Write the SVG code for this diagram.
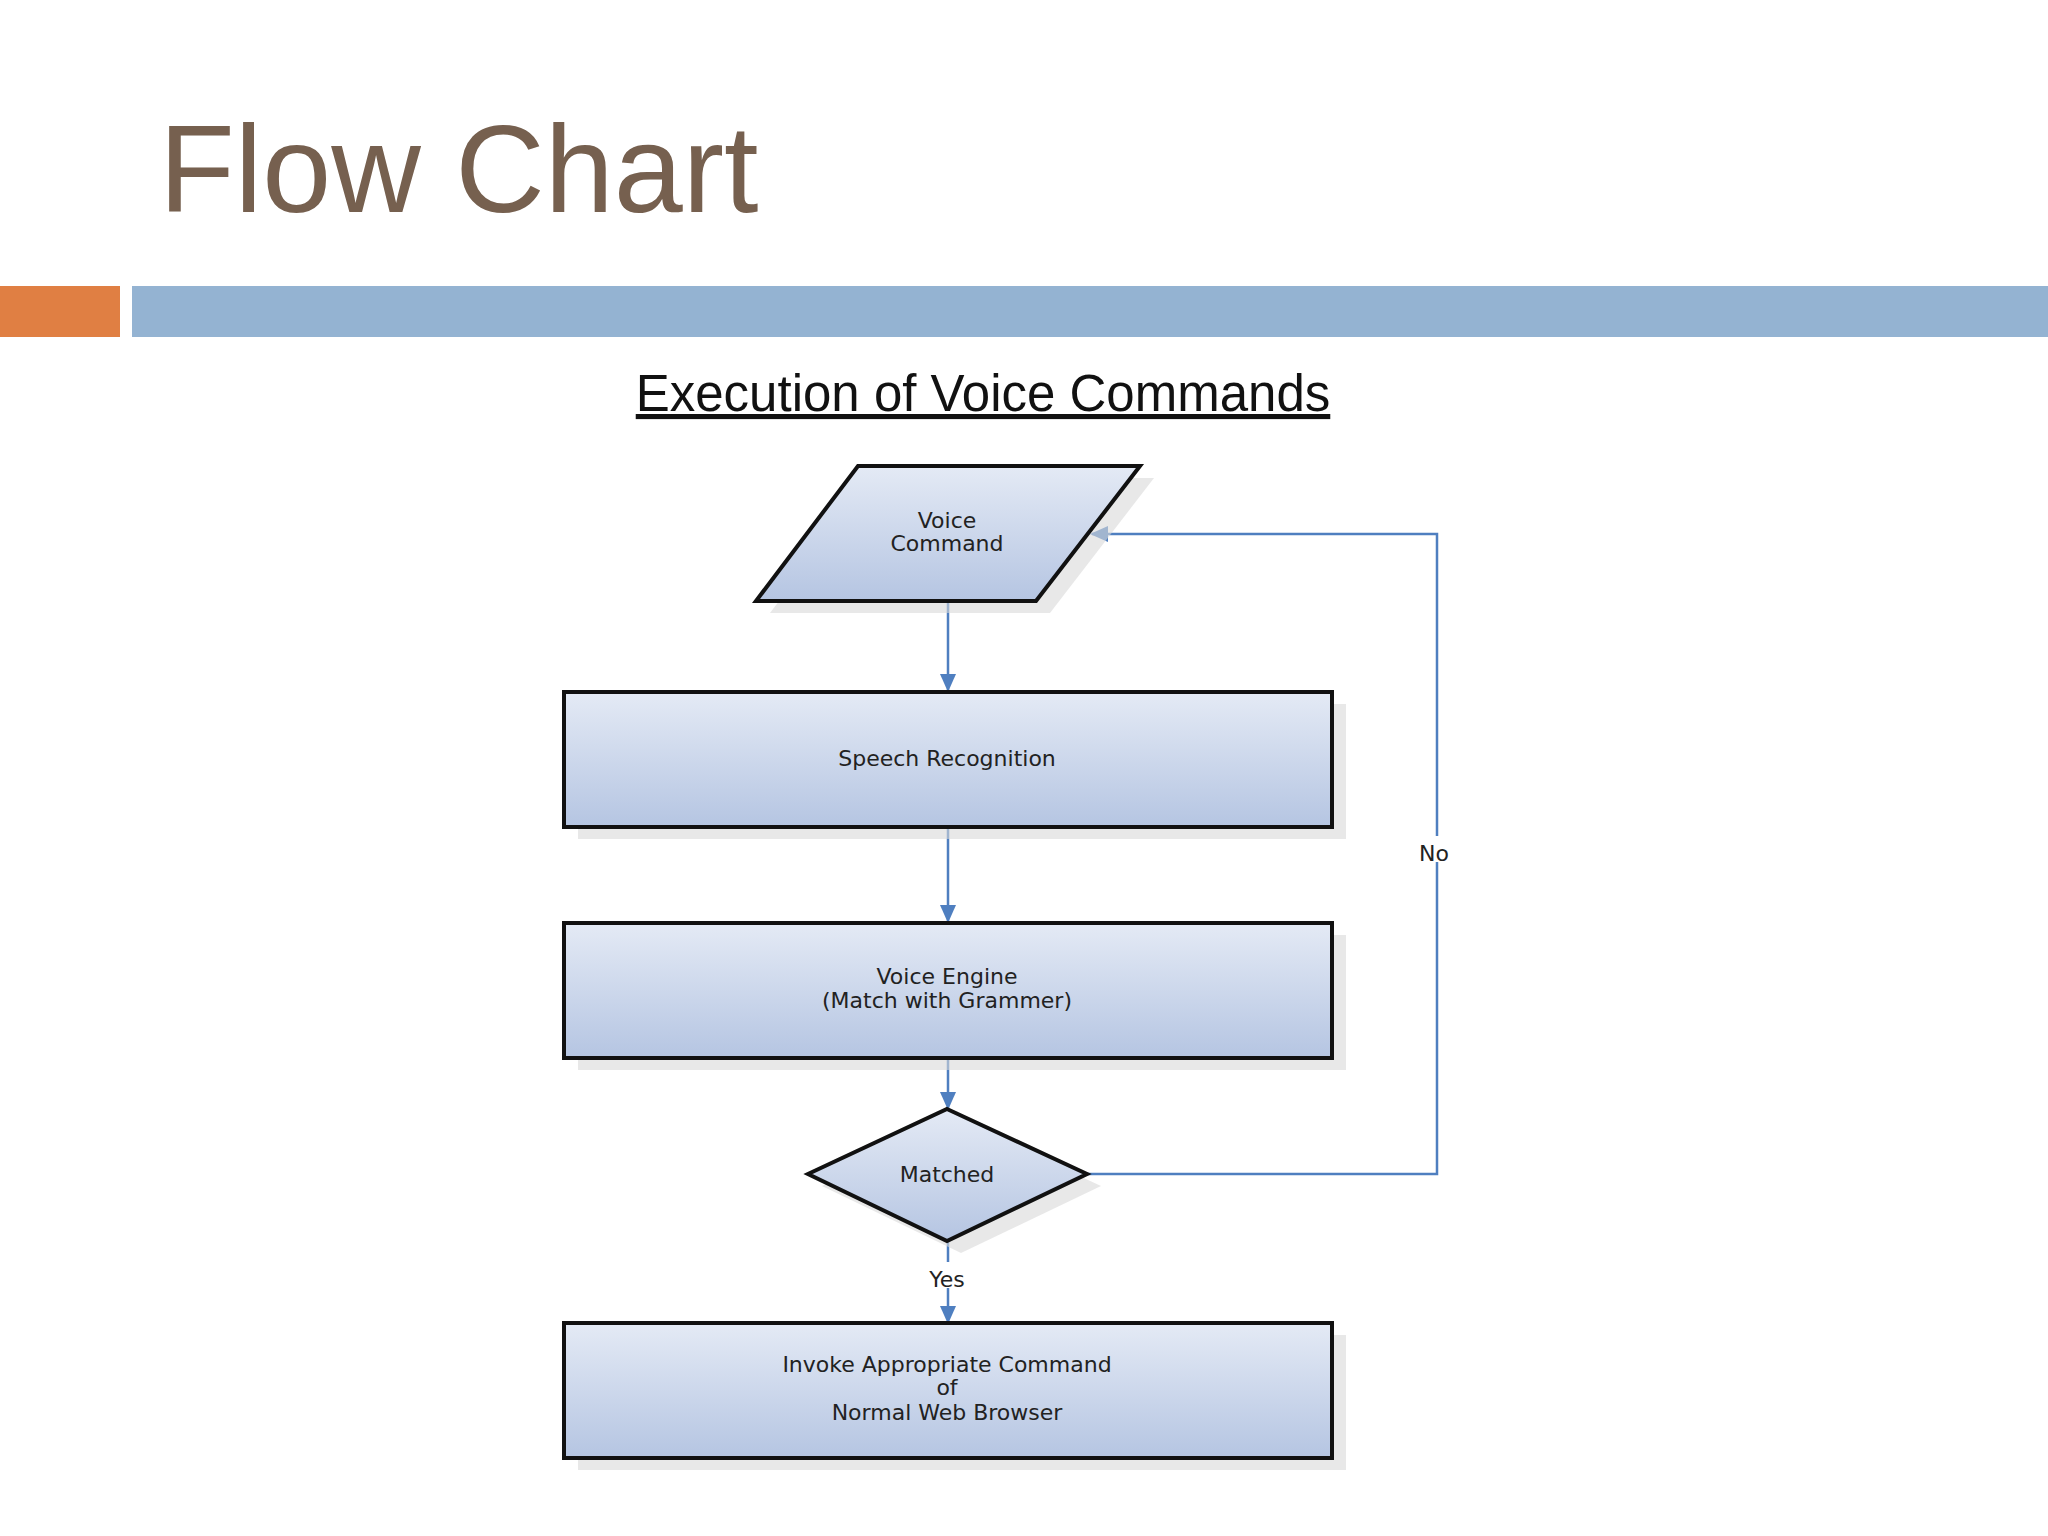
<svg xmlns="http://www.w3.org/2000/svg" width="2048" height="1536" viewBox="0 0 2048 1536">
<defs>
<linearGradient id="g" x1="0" y1="0" x2="0" y2="1"><stop offset="0" stop-color="#e4eaf5"/><stop offset="1" stop-color="#b5c5e2"/></linearGradient>
<marker id="a" markerWidth="18" markerHeight="16" refX="16" refY="8" orient="auto" markerUnits="userSpaceOnUse" viewBox="0 0 18 16"><path d="M0,0 L18,8 L0,16 z" fill="#4f7fc0"/></marker>
<style>
.n{fill:url(#g);stroke:#111;stroke-width:4}
.sh{fill:#d8d8d8;opacity:0.6}
.t{font-family:"DejaVu Sans",Verdana,sans-serif;font-size:22px;fill:#222;text-anchor:middle}
.c{fill:none;stroke:#4f7fc0;stroke-width:2.5;marker-end:url(#a)}
</style>
</defs>
<rect width="2048" height="1536" fill="#fff"/>
<text x="159" y="212" font-family="Liberation Sans,Arial,sans-serif" font-size="124" fill="#76604f">Flow Chart</text>
<rect x="0" y="286" width="120" height="51" fill="#e07f43"/>
<rect x="132" y="286" width="1916" height="51" fill="#94b3d2"/>
<text x="983" y="411" font-family="Liberation Sans,Arial,sans-serif" font-size="51" fill="#111" text-anchor="middle" text-decoration="underline">Execution of Voice Commands</text>
<g id="connectors">
<line class="c" x1="948" y1="601" x2="948" y2="690"/>
<line class="c" x1="948" y1="827" x2="948" y2="921"/>
<line class="c" x1="948" y1="1058" x2="948" y2="1108"/>
<line class="c" x1="948" y1="1241" x2="948" y2="1322"/>
<polyline class="c" points="1087,1174 1437,1174 1437,534 1092,534"/>
<rect x="1410" y="836" width="50" height="26" fill="#fff"/>
<text class="t" x="1434" y="861">No</text>
<rect x="914" y="1262" width="68" height="26" fill="#fff"/>
<text class="t" x="947" y="1287">Yes</text>
</g>
<g id="voice-command">
<polygon class="sh" points="872,478 1154,478 1050,613 770,613"/>
<polygon class="n" points="858,466 1140,466 1036,601 756,601"/>
<text class="t" x="947" y="528">Voice</text><text class="t" x="947" y="551">Command</text>
</g>
<g id="speech-recognition">
<rect class="sh" x="578" y="704" width="768" height="135"/>
<rect class="n" x="564" y="692" width="768" height="135"/>
<text class="t" x="947" y="766">Speech Recognition</text>
</g>
<g id="voice-engine">
<rect class="sh" x="578" y="935" width="768" height="135"/>
<rect class="n" x="564" y="923" width="768" height="135"/>
<text class="t" x="947" y="984">Voice Engine</text><text class="t" x="947" y="1008">(Match with Grammer)</text>
</g>
<g id="matched">
<polygon class="sh" points="961,1121 1101,1186 961,1253 822,1186"/>
<polygon class="n" points="947,1109 1087,1174 947,1241 808,1174"/>
<text class="t" x="947" y="1182">Matched</text>
</g>
<g id="invoke">
<rect class="sh" x="578" y="1335" width="768" height="135"/>
<rect class="n" x="564" y="1323" width="768" height="135"/>
<text class="t" x="947" y="1372">Invoke Appropriate Command</text><text class="t" x="947" y="1395">of</text><text class="t" x="947" y="1420">Normal Web Browser</text>
</g>
</svg>
